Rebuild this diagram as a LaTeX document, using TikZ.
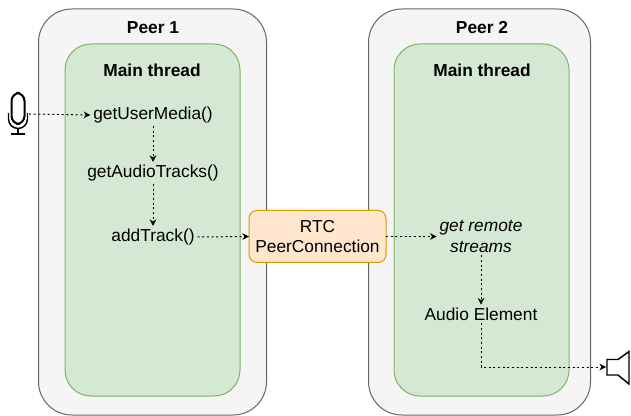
\documentclass[tikz,border=0pt]{standalone}
\usepackage{fontspec}
\setmainfont{Liberation Sans}
\usetikzlibrary{arrows.meta}
\definecolor{peerfill}{HTML}{F5F5F5}
\definecolor{peerline}{HTML}{666666}
\definecolor{threadfill}{HTML}{D5E8D4}
\definecolor{threadline}{HTML}{82B366}
\definecolor{rtcfill}{HTML}{FFE6CC}
\definecolor{rtcline}{HTML}{D79B00}
\tikzset{
  peerbox/.style={draw=peerline,fill=peerfill,line width=0.75pt,rounded corners=25pt,inner sep=0pt,outer sep=0pt,minimum height=304.5pt},
  threadbox/.style={draw=threadline,fill=threadfill,line width=0.75pt,rounded corners=19.5pt,inner sep=0pt,outer sep=0pt,minimum width=131.25pt,minimum height=264pt},
  rtcbox/.style={draw=rtcline,fill=rtcfill,line width=0.75pt,rounded corners=6pt,inner sep=0pt,outer sep=0pt,minimum width=102.75pt,minimum height=39pt,align=center,font=\fontsize{13}{15}\selectfont},
  lbl/.style={inner sep=2pt,font=\fontsize{13}{15}\selectfont},
  ttl/.style={inner sep=2pt,font=\fontsize{13}{15}\selectfont\bfseries},
  flow/.style={-{Stealth[length=5pt,width=5pt]},line width=0.75pt,dash pattern=on 1.5pt off 2pt}
}
\begin{document}
\begin{tikzpicture}[x=0.75pt,y=-0.75pt]
\useasboundingbox (0,0) rectangle (631,416);
% peers
\node[peerbox,minimum width=171pt] (peerA) at (152.5,212) {};
\node[peerbox,minimum width=166.5pt] (peerB) at (479.5,212) {};
\node[threadbox] (threadA) at (152.5,220) {};
\node[threadbox] (threadB) at (481.5,220) {};
\node[ttl] (titleA) at (153,28) {Peer 1};
\node[ttl] (titleB) at (482,28) {Peer 2};
\node[ttl] (mainA) at (152,70) {Main thread};
\node[ttl] (mainB) at (482,70) {Main thread};
% peer 1 calls
\node[lbl] (media) at (153,115) {getUserMedia()};
\node[lbl] (tracks) at (153,173) {getAudioTracks()};
\node[lbl] (add) at (153,237) {addTrack()};
% connection
\node[rtcbox] (rtc) at (317.5,236.5) {RTC\\PeerConnection};
% peer 2
\node[lbl,align=center,font=\fontsize{13}{15.5}\selectfont\itshape] (remote) at (481,236.5) {get remote\\streams};
\node[lbl] (audio) at (481,314) {Audio Element};
% microphone
\draw[line width=1.5pt,fill=white,rounded corners=6pt] (11.5,93) rectangle (24.5,124);
\draw[line width=1.1pt] (8.5,113) -- (8.5,119) arc[start angle=180,end angle=0,radius=9.5] -- (27.5,113);
\draw[line width=1.1pt] (18,128.5) -- (18,134) (11,134) -- (25,134);
\coordinate (mic) at (29,114);
% speaker
\draw[line width=1.1pt,line join=miter] (607,359.5) -- (618,359.5) -- (629,351.5) -- (629,384) -- (618,375) -- (607,375) -- cycle;
\coordinate (spk) at (606,367);
% flows
\path[flow] (mic) edge (media.west);
\path[flow] (media.south) edge (tracks.north);
\path[flow] (tracks.south) edge (add.north);
\path[flow] (add.east) edge (rtc.west);
\path[flow] (rtc.east) edge (remote.west);
\path[flow] (remote.south) edge (audio.north);
\draw[flow] (audio.south) |- (spk);
\end{tikzpicture}
\end{document}
